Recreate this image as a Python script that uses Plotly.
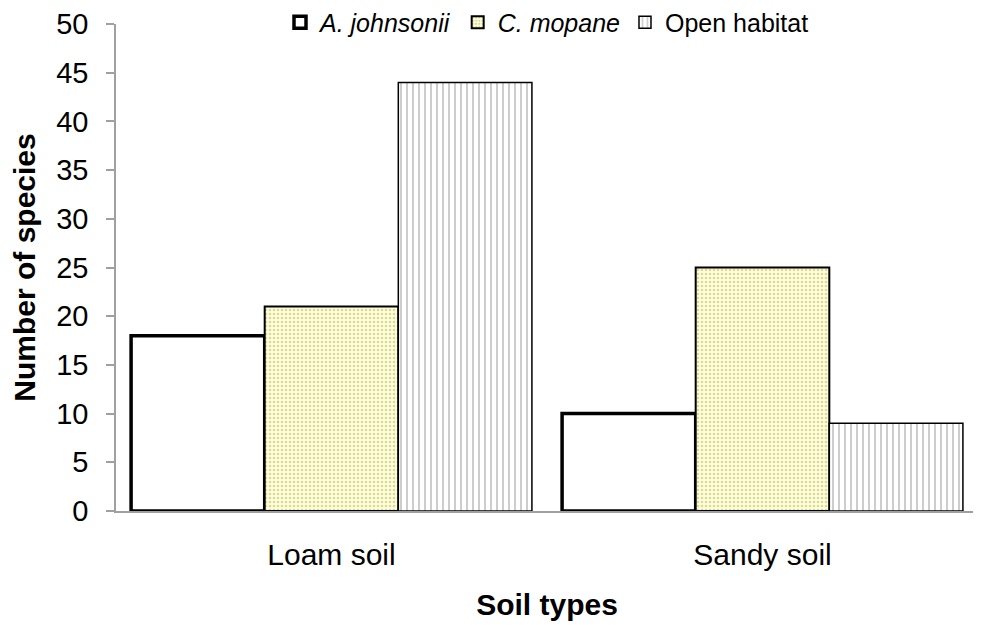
import plotly.graph_objects as go

categories = ["Loam soil", "Sandy soil"]
a_johnsonii = [18, 10]
c_mopane = [21, 25]
open_habitat = [44, 9]

fig = go.Figure()
fig.add_trace(go.Bar(
    x=categories, y=a_johnsonii, name="<i>A. johnsonii</i>",
    marker=dict(color="white", line=dict(color="black", width=3.5)),
))
fig.add_trace(go.Bar(
    x=categories, y=c_mopane, name="<i>C. mopane</i>",
    marker=dict(color="#FFFFD2", line=dict(color="black", width=2),
                pattern=dict(shape=".", fgcolor="#B0B088", bgcolor="#FFFFD2",
                             size=4, solidity=0.35, fillmode="overlay")),
))
fig.add_trace(go.Bar(
    x=categories, y=open_habitat, name="Open habitat",
    marker=dict(color="white", line=dict(color="black", width=1.5),
                pattern=dict(shape="|", fgcolor="#999999", bgcolor="white",
                             size=6, solidity=0.33, fillmode="overlay")),
))

font = "Liberation Sans, Arial, sans-serif"
fig.update_layout(
    width=981, height=625,
    margin=dict(l=108, r=11, t=16, b=122, autoexpand=False),
    paper_bgcolor="white", plot_bgcolor="white",
    barmode="group", bargap=0.07, bargroupgap=0,
    font=dict(family=font, color="black"),
    showlegend=True,
    legend=dict(orientation="h", x=0.50, xanchor="center", y=1.003, yanchor="middle",
                font=dict(size=25, family=font), bgcolor="rgba(0,0,0,0)",
                itemwidth=30, traceorder="normal", tracegroupgap=0),
    xaxis=dict(
        showline=True, linecolor="#A0A0A0", linewidth=2,
        ticks="", showgrid=False,
        tickfont=dict(size=30, family=font),
        ticklabelstandoff=16,
        title=dict(text="<b>Soil types</b>", font=dict(size=30, family=font), standoff=24),
    ),
    yaxis=dict(
        range=[0, 50], dtick=5, showgrid=False,
        showline=True, linecolor="#A0A0A0", linewidth=1.5,
        ticks="outside", ticklen=8, tickcolor="#A0A0A0", tickwidth=1.5,
        tickfont=dict(size=29, family=font),
        ticklabelstandoff=12,
        title=dict(text="<b>Number of species</b>", font=dict(size=30, family=font), standoff=25),
        zeroline=False,
    ),
)

fig.write_html("out.html")
